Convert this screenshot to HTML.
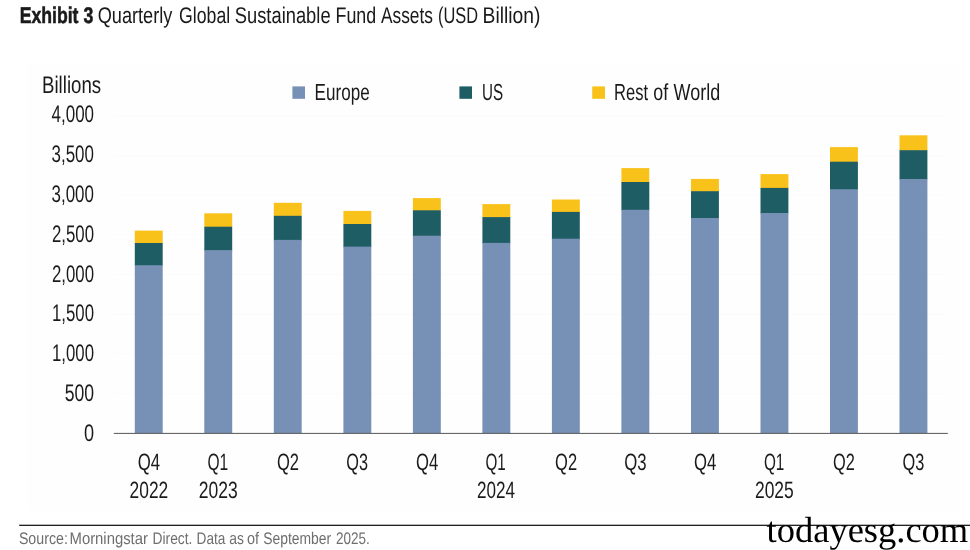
<!DOCTYPE html>
<html lang="en">
<head>
<meta charset="utf-8">
<title>Exhibit 3 Quarterly Global Sustainable Fund Assets (USD Billion)</title>
<style>
html,body{margin:0;padding:0;background:#fff;}
body{width:970px;height:550px;overflow:hidden;}
svg{display:block;}
text{text-rendering:geometricPrecision;font-family:"Liberation Sans",sans-serif;fill:#1a1a1a;}
.b{font-weight:bold;stroke:#1a1a1a;stroke-width:0.55px;}
.src{fill:#6e6e6e;}
.wm{font-family:"Liberation Serif",serif;fill:#000;}
</style>
</head>
<body>
<svg width="970" height="550" viewBox="0 0 970 550">
<rect x="0" y="0" width="970" height="550" fill="#ffffff"/>
<rect x="26" y="64.2" width="933.5" height="446.3" fill="#fefefe"/>
<text x="19.65" y="22.6" font-size="22.7" textLength="73.58" lengthAdjust="spacingAndGlyphs" class="b">Exhibit 3</text>
<text y="22.6" font-size="22.7"><tspan x="97.67" textLength="74.7" lengthAdjust="spacingAndGlyphs">Quarterly</tspan> <tspan x="179.06" textLength="51.09" lengthAdjust="spacingAndGlyphs">Global</tspan> <tspan x="234.79" textLength="95.8" lengthAdjust="spacingAndGlyphs">Sustainable</tspan> <tspan x="335.52" textLength="40.72" lengthAdjust="spacingAndGlyphs">Fund</tspan> <tspan x="380.96" textLength="51.91" lengthAdjust="spacingAndGlyphs">Assets</tspan> <tspan x="438.01" textLength="40.03" lengthAdjust="spacingAndGlyphs">(USD</tspan> <tspan x="482.51" textLength="57.93" lengthAdjust="spacingAndGlyphs">Billion)</tspan></text>
<line x1="114" y1="393.7" x2="944" y2="393.7" stroke="#fbfbfb" stroke-width="1"/>
<line x1="114" y1="354.0" x2="944" y2="354.0" stroke="#fbfbfb" stroke-width="1"/>
<line x1="114" y1="314.3" x2="944" y2="314.3" stroke="#fbfbfb" stroke-width="1"/>
<line x1="114" y1="274.6" x2="944" y2="274.6" stroke="#fbfbfb" stroke-width="1"/>
<line x1="114" y1="234.9" x2="944" y2="234.9" stroke="#fbfbfb" stroke-width="1"/>
<line x1="114" y1="195.2" x2="944" y2="195.2" stroke="#fbfbfb" stroke-width="1"/>
<line x1="114" y1="155.5" x2="944" y2="155.5" stroke="#fbfbfb" stroke-width="1"/>
<line x1="114" y1="115.8" x2="944" y2="115.8" stroke="#fbfbfb" stroke-width="1"/>
<text x="42.04" y="92.8" font-size="24.0" textLength="59.06" lengthAdjust="spacingAndGlyphs">Billions</text>
<text x="84.02" y="441.1" font-size="24.0" textLength="10.1" lengthAdjust="spacingAndGlyphs">0</text>
<text x="64.66" y="401.2" font-size="24.0" textLength="29.41" lengthAdjust="spacingAndGlyphs">500</text>
<text x="52.0" y="361.3" font-size="24.0" textLength="41.99" lengthAdjust="spacingAndGlyphs">1,000</text>
<text x="52.0" y="321.4" font-size="24.0" textLength="41.99" lengthAdjust="spacingAndGlyphs">1,500</text>
<text x="51.97" y="281.6" font-size="24.0" textLength="42.05" lengthAdjust="spacingAndGlyphs">2,000</text>
<text x="51.97" y="241.7" font-size="24.0" textLength="42.05" lengthAdjust="spacingAndGlyphs">2,500</text>
<text x="51.49" y="201.8" font-size="24.0" textLength="42.48" lengthAdjust="spacingAndGlyphs">3,000</text>
<text x="51.49" y="161.9" font-size="24.0" textLength="42.48" lengthAdjust="spacingAndGlyphs">3,500</text>
<text x="51.51" y="122.0" font-size="24.0" textLength="42.55" lengthAdjust="spacingAndGlyphs">4,000</text>
<rect x="292.4" y="86.4" width="12.6" height="12.4" fill="#7790b5"/>
<text x="314.62" y="100" font-size="23.2" textLength="55.05" lengthAdjust="spacingAndGlyphs">Europe</text>
<rect x="459.4" y="86.4" width="12.6" height="12.4" fill="#1f5d65"/>
<text x="481.93" y="100" font-size="23.2" textLength="21.11" lengthAdjust="spacingAndGlyphs">US</text>
<rect x="592.2" y="86.4" width="12.8" height="12.4" fill="#f9c21b"/>
<text y="100" font-size="23.2"><tspan x="614.05" textLength="34.02" lengthAdjust="spacingAndGlyphs">Rest</tspan> <tspan x="653.26" textLength="14.88" lengthAdjust="spacingAndGlyphs">of</tspan> <tspan x="673.6" textLength="46.65" lengthAdjust="spacingAndGlyphs">World</tspan></text>
<rect x="134.8" y="230.6" width="27.9" height="13.0" fill="#f9c21b"/><rect x="134.8" y="243.0" width="27.9" height="22.9" fill="#1f5d65"/><rect x="134.8" y="265.3" width="27.9" height="167.7" fill="#7790b5"/>
<rect x="204.3" y="213.3" width="27.9" height="14.0" fill="#f9c21b"/><rect x="204.3" y="226.7" width="27.9" height="24.1" fill="#1f5d65"/><rect x="204.3" y="250.2" width="27.9" height="182.8" fill="#7790b5"/>
<rect x="273.8" y="202.8" width="27.9" height="13.6" fill="#f9c21b"/><rect x="273.8" y="215.8" width="27.9" height="24.7" fill="#1f5d65"/><rect x="273.8" y="239.9" width="27.9" height="193.1" fill="#7790b5"/>
<rect x="343.4" y="210.9" width="27.9" height="13.7" fill="#f9c21b"/><rect x="343.4" y="224.0" width="27.9" height="23.2" fill="#1f5d65"/><rect x="343.4" y="246.6" width="27.9" height="186.4" fill="#7790b5"/>
<rect x="412.9" y="198.1" width="27.9" height="12.8" fill="#f9c21b"/><rect x="412.9" y="210.3" width="27.9" height="26.0" fill="#1f5d65"/><rect x="412.9" y="235.7" width="27.9" height="197.3" fill="#7790b5"/>
<rect x="482.4" y="204.1" width="27.9" height="13.6" fill="#f9c21b"/><rect x="482.4" y="217.1" width="27.9" height="26.4" fill="#1f5d65"/><rect x="482.4" y="242.9" width="27.9" height="190.1" fill="#7790b5"/>
<rect x="551.9" y="199.5" width="27.9" height="13.0" fill="#f9c21b"/><rect x="551.9" y="211.9" width="27.9" height="27.4" fill="#1f5d65"/><rect x="551.9" y="238.7" width="27.9" height="194.3" fill="#7790b5"/>
<rect x="621.4" y="168.1" width="27.9" height="14.5" fill="#f9c21b"/><rect x="621.4" y="182.0" width="27.9" height="28.4" fill="#1f5d65"/><rect x="621.4" y="209.8" width="27.9" height="223.2" fill="#7790b5"/>
<rect x="691.0" y="178.9" width="27.9" height="12.9" fill="#f9c21b"/><rect x="691.0" y="191.2" width="27.9" height="27.4" fill="#1f5d65"/><rect x="691.0" y="218.0" width="27.9" height="215.0" fill="#7790b5"/>
<rect x="760.5" y="174.1" width="27.9" height="14.4" fill="#f9c21b"/><rect x="760.5" y="187.9" width="27.9" height="25.7" fill="#1f5d65"/><rect x="760.5" y="213.0" width="27.9" height="220.0" fill="#7790b5"/>
<rect x="830.0" y="147.1" width="27.9" height="15.2" fill="#f9c21b"/><rect x="830.0" y="161.7" width="27.9" height="28.2" fill="#1f5d65"/><rect x="830.0" y="189.3" width="27.9" height="243.7" fill="#7790b5"/>
<rect x="899.5" y="135.3" width="27.9" height="15.5" fill="#f9c21b"/><rect x="899.5" y="150.2" width="27.9" height="29.4" fill="#1f5d65"/><rect x="899.5" y="179.0" width="27.9" height="254.0" fill="#7790b5"/>
<rect x="113.8" y="432.9" width="834" height="0.95" fill="#4e4e4e"/>
<text x="137.75" y="470" font-size="23.6" textLength="22.39" lengthAdjust="spacingAndGlyphs">Q4</text>
<text x="129.58" y="498" font-size="23.6" textLength="38.68" lengthAdjust="spacingAndGlyphs">2022</text>
<text x="207.53" y="470" font-size="23.6" textLength="20.73" lengthAdjust="spacingAndGlyphs">Q1</text>
<text x="198.74" y="498" font-size="23.6" textLength="39.04" lengthAdjust="spacingAndGlyphs">2023</text>
<text x="276.92" y="470" font-size="23.6" textLength="22.04" lengthAdjust="spacingAndGlyphs">Q2</text>
<text x="346.29" y="470" font-size="23.6" textLength="21.71" lengthAdjust="spacingAndGlyphs">Q3</text>
<text x="416.0" y="470" font-size="23.6" textLength="22.21" lengthAdjust="spacingAndGlyphs">Q4</text>
<text x="485.48" y="470" font-size="23.6" textLength="20.29" lengthAdjust="spacingAndGlyphs">Q1</text>
<text x="476.99" y="498" font-size="23.6" textLength="38.1" lengthAdjust="spacingAndGlyphs">2024</text>
<text x="555.06" y="470" font-size="23.6" textLength="22.01" lengthAdjust="spacingAndGlyphs">Q2</text>
<text x="624.2" y="470" font-size="23.6" textLength="22.34" lengthAdjust="spacingAndGlyphs">Q3</text>
<text x="693.97" y="470" font-size="23.6" textLength="22.25" lengthAdjust="spacingAndGlyphs">Q4</text>
<text x="763.95" y="470" font-size="23.6" textLength="20.39" lengthAdjust="spacingAndGlyphs">Q1</text>
<text x="754.93" y="498" font-size="23.6" textLength="38.84" lengthAdjust="spacingAndGlyphs">2025</text>
<text x="833.11" y="470" font-size="23.6" textLength="21.82" lengthAdjust="spacingAndGlyphs">Q2</text>
<text x="902.46" y="470" font-size="23.6" textLength="21.77" lengthAdjust="spacingAndGlyphs">Q3</text>
<rect x="19.2" y="524.7" width="951" height="1.2" fill="#0a0a0a"/>
<text y="543.5" font-size="16.8" class="src"><tspan x="18.89" textLength="48.98" lengthAdjust="spacingAndGlyphs">Source:</tspan> <tspan x="69.52" textLength="78.45" lengthAdjust="spacingAndGlyphs">Morningstar</tspan> <tspan x="152.56" textLength="39.87" lengthAdjust="spacingAndGlyphs">Direct.</tspan> <tspan x="196.58" textLength="28.8" lengthAdjust="spacingAndGlyphs">Data</tspan> <tspan x="229.28" textLength="14.69" lengthAdjust="spacingAndGlyphs">as</tspan> <tspan x="246.89" textLength="12.02" lengthAdjust="spacingAndGlyphs">of</tspan> <tspan x="263.15" textLength="68.02" lengthAdjust="spacingAndGlyphs">September</tspan> <tspan x="336.0" textLength="33.78" lengthAdjust="spacingAndGlyphs">2025.</tspan></text>
<text x="766.55" y="542" font-size="36.3" textLength="201.69" lengthAdjust="spacingAndGlyphs" class="wm">todayesg.com</text>
</svg>
</body>
</html>
